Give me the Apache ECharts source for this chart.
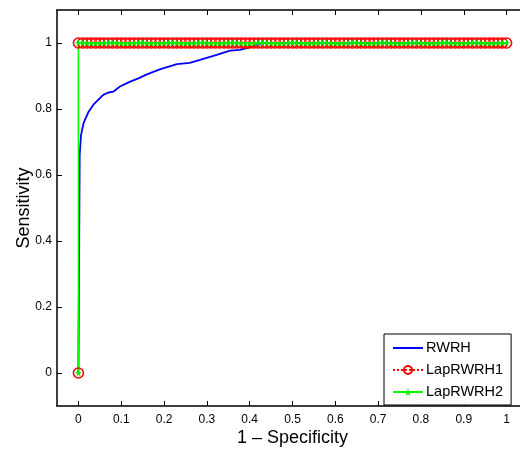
<!DOCTYPE html>
<html>
<head>
<meta charset="utf-8">
<script src="https://cdn.jsdelivr.net/npm/echarts@6/dist/echarts.min.js"></script>
<style>
  html, body { margin: 0; padding: 0; background: #fff; }
  #chart { width: 520px; height: 451px; }
</style>
</head>
<body>
<div id="chart"></div>
<script>
// ROC curves
var rwrhX = [0, 0.003, 0.006, 0.012, 0.023, 0.035, 0.058, 0.07, 0.082, 0.097, 0.121, 0.14, 0.16, 0.19, 0.23, 0.26, 0.284, 0.323, 0.354, 0.377, 0.4, 0.43, 1];
var rwrhY = [0, 0.66, 0.72, 0.757, 0.79, 0.813, 0.843, 0.85, 0.853, 0.868, 0.883, 0.893, 0.905, 0.92, 0.936, 0.94, 0.949, 0.964, 0.977, 0.979, 0.987, 1, 1];

var lapX = [0, 0, 0.01, 0.02, 0.03, 0.04, 0.05, 0.06, 0.07, 0.08, 0.09,
    0.1, 0.11, 0.12, 0.13, 0.14, 0.15, 0.16, 0.17, 0.18, 0.19,
    0.2, 0.21, 0.22, 0.23, 0.24, 0.25, 0.26, 0.27, 0.28, 0.29,
    0.3, 0.31, 0.32, 0.33, 0.34, 0.35, 0.36, 0.37, 0.38, 0.39,
    0.4, 0.41, 0.42, 0.43, 0.44, 0.45, 0.46, 0.47, 0.48, 0.49,
    0.5, 0.51, 0.52, 0.53, 0.54, 0.55, 0.56, 0.57, 0.58, 0.59,
    0.6, 0.61, 0.62, 0.63, 0.64, 0.65, 0.66, 0.67, 0.68, 0.69,
    0.7, 0.71, 0.72, 0.73, 0.74, 0.75, 0.76, 0.77, 0.78, 0.79,
    0.8, 0.81, 0.82, 0.83, 0.84, 0.85, 0.86, 0.87, 0.88, 0.89,
    0.9, 0.91, 0.92, 0.93, 0.94, 0.95, 0.96, 0.97, 0.98, 0.99, 1];
var lapY = [0, 1, 1, 1, 1, 1, 1, 1, 1, 1, 1,
    1, 1, 1, 1, 1, 1, 1, 1, 1, 1,
    1, 1, 1, 1, 1, 1, 1, 1, 1, 1,
    1, 1, 1, 1, 1, 1, 1, 1, 1, 1,
    1, 1, 1, 1, 1, 1, 1, 1, 1, 1,
    1, 1, 1, 1, 1, 1, 1, 1, 1, 1,
    1, 1, 1, 1, 1, 1, 1, 1, 1, 1,
    1, 1, 1, 1, 1, 1, 1, 1, 1, 1,
    1, 1, 1, 1, 1, 1, 1, 1, 1, 1,
    1, 1, 1, 1, 1, 1, 1, 1, 1, 1, 1];

var xTicks = [0, 0.1, 0.2, 0.3, 0.4, 0.5, 0.6, 0.7, 0.8, 0.9, 1];
var yTicks = [0, 0.2, 0.4, 0.6, 0.8, 1];

function pairs(xs, ys) {
    var out = [];
    for (var i = 0; i < xs.length; i++) out.push([xs[i], ys[i]]);
    return out;
}

var font = 'Liberation Sans, Arial, Helvetica, sans-serif';
var starPath = 'path://M0,-10L2,-3L9.5,-3L3.5,1.5L6,9L0,4.5L-6,9L-3.5,1.5L-9.5,-3L-2,-3Z';

var axisLine = { show: true, onZero: false, lineStyle: { color: '#000', width: 1.5 } };
var tickIn = { show: true, inside: true, length: 5, lineStyle: { color: '#000', width: 1 } };

var myChart = echarts.init(document.getElementById('chart'));

var option = {
    animation: false,
    backgroundColor: '#fff',
    grid: { left: 57, top: 10, width: 471, height: 396, containLabel: false, outerBoundsMode: 'none' },
    xAxis: [{
        type: 'value', min: -0.05, max: 1.05,
        name: '1 \u2013 Specificity', nameLocation: 'middle', nameGap: 23, nameMoveOverlap: false,
        nameTextStyle: { fontFamily: font, fontSize: 18, color: '#000' },
        axisLine: axisLine,
        axisTick: Object.assign({ customValues: xTicks }, tickIn),
        axisLabel: { customValues: xTicks, margin: 8, fontFamily: font, fontSize: 12, color: '#000' },
        splitLine: { show: false }
    }, {
        type: 'value', min: -0.05, max: 1.05, position: 'top',
        axisLine: axisLine,
        axisTick: Object.assign({ customValues: xTicks }, tickIn),
        axisLabel: { show: false },
        splitLine: { show: false }
    }],
    yAxis: [{
        type: 'value', min: -0.1, max: 1.1,
        name: 'Sensitivity', nameLocation: 'middle', nameGap: 24, nameRotate: 90, nameMoveOverlap: false,
        nameTextStyle: { fontFamily: font, fontSize: 18, color: '#000' },
        axisLine: axisLine,
        axisTick: Object.assign({ customValues: yTicks }, tickIn),
        axisLabel: { customValues: yTicks, margin: 5, fontFamily: font, fontSize: 12, color: '#000' },
        splitLine: { show: false }
    }, {
        type: 'value', min: -0.1, max: 1.1, position: 'right',
        axisLine: axisLine,
        axisTick: Object.assign({ customValues: yTicks }, tickIn),
        axisLabel: { show: false },
        splitLine: { show: false }
    }],
    legend: {
        left: 384, top: 334, orient: 'vertical',
        padding: [6, 8, 5, 8],
        itemWidth: 30, itemHeight: 10, itemGap: 6,
        borderColor: '#000', borderWidth: 1, backgroundColor: '#fff',
        textStyle: { fontFamily: font, fontSize: 14.5, color: '#000', lineHeight: 16, padding: [0, 0, 0, -2] },
        data: [
            { name: 'RWRH', itemStyle: { color: 'rgba(0,0,0,0)', borderWidth: 0, opacity: 0 } },
            'LapRWRH1',
            'LapRWRH2'
        ]
    },
    series: [{
        name: 'RWRH', type: 'line',
        data: pairs(rwrhX, rwrhY),
        symbol: 'none',
        lineStyle: { color: '#0000ff', width: 1.8 },
        itemStyle: { color: '#0000ff' }
    }, {
        name: 'LapRWRH1', type: 'line',
        data: pairs(lapX, lapY),
        symbol: 'circle', symbolSize: 10, showAllSymbol: true,
        lineStyle: { color: '#ff0000', width: 1, type: 'dotted' },
        itemStyle: { color: 'rgba(255,255,255,0)', borderColor: '#ff0000', borderWidth: 1.6 }
    }, {
        name: 'LapRWRH2', type: 'line',
        data: pairs(lapX, lapY),
        symbol: starPath, symbolSize: 7, showAllSymbol: true,
        lineStyle: { color: '#00ff00', width: 1.5 },
        itemStyle: { color: '#00ee00' }
    }]
};

myChart.setOption(option);
</script>
</body>
</html>
